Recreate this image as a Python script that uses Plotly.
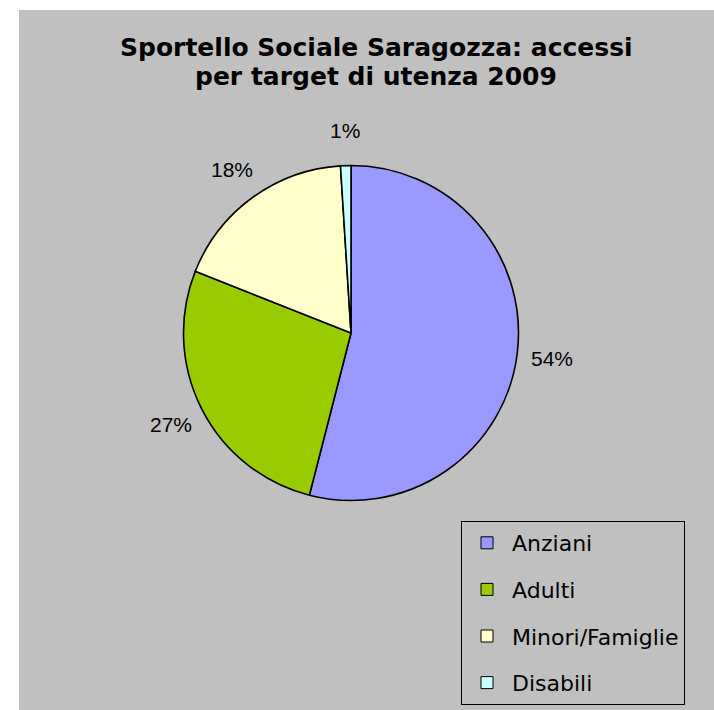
import math
import plotly.graph_objects as go

# Access share per user group, 2009 (percent)
categories = ["Anziani", "Adulti", "Minori/Famiglie", "Disabili"]
shares = [54, 27, 18, 1]
slice_colors = ["#9999FF", "#99CC00", "#FFFFCC", "#CCFFFF"]

title_lines = ["Sportello Sociale Saragozza: accessi", "per target di utenza 2009"]

W, H = 714, 710
ML, MT = 19, 10
PW, PH = W - ML, H - MT


def px_x(x):
    return (x - ML) / PW


def px_y(y):
    return 1 - (y - MT) / PH


fig = go.Figure()

# pie centred at (351, 333) with radius ~167 px, first slice starting at 12 o'clock
cx, cy, r = 351, 333, 167.5
fig.add_trace(go.Pie(
    labels=categories,
    values=shares,
    sort=False,
    direction="clockwise",
    rotation=0,
    marker=dict(colors=slice_colors, line=dict(color="black", width=1.6)),
    textinfo="none",
    showlegend=False,
    domain=dict(x=[px_x(cx - r), px_x(cx + r)], y=[px_y(cy + r), px_y(cy - r)]),
    hoverinfo="label+percent",
))

# legend entries, one per category, spaced via separate groups
for name, col in zip(categories, slice_colors):
    fig.add_trace(go.Scatter(
        x=[None], y=[None], mode="markers", name=name,
        legendgroup=name,
        marker=dict(symbol="square", size=12, color=col,
                    line=dict(color="black", width=1)),
    ))

annotations = []

# percentage labels set outside the rim, on each slice's mid-angle
total = float(sum(shares))
label_r = r + 35
start = 0.0
for v in shares:
    mid = (start + v / 2.0) / total * 2 * math.pi
    start += v
    lx = cx + label_r * math.sin(mid)
    ly = cy - label_r * math.cos(mid)
    annotations.append(dict(
        text="%d%%" % round(100 * v / total), xref="paper", yref="paper",
        x=px_x(lx), y=px_y(ly), xanchor="center", yanchor="middle",
        showarrow=False,
        font=dict(family="Liberation Sans, Arial", size=21, color="black"),
    ))

for i, line in enumerate(title_lines):
    annotations.append(dict(
        text="<b>%s</b>" % line, xref="paper", yref="paper",
        x=px_x(376), y=px_y(48 + 28 * i), xanchor="center", yanchor="middle",
        showarrow=False,
        font=dict(family="DejaVu Sans", size=25, color="black"),
    ))

fig.update_layout(
    width=W, height=H,
    margin=dict(l=ML, t=MT, r=0, b=0, pad=0),
    paper_bgcolor="white",
    plot_bgcolor="rgba(0,0,0,0)",
    xaxis=dict(visible=False),
    yaxis=dict(visible=False),
    annotations=annotations,
    shapes=[dict(type="rect", xref="paper", yref="paper", x0=0, x1=1, y0=0, y1=1,
                 fillcolor="#C0C0C0", line=dict(width=0), layer="below")],
    legend=dict(
        x=px_x(461), y=px_y(521), xanchor="left", yanchor="top",
        bgcolor="#C0C0C0", bordercolor="black", borderwidth=1,
        font=dict(family="DejaVu Sans", size=22, color="black"),
        tracegroupgap=15,
        traceorder="grouped",
        itemwidth=40,
        itemclick=False,
    ),
)

fig.write_html("out.html")
